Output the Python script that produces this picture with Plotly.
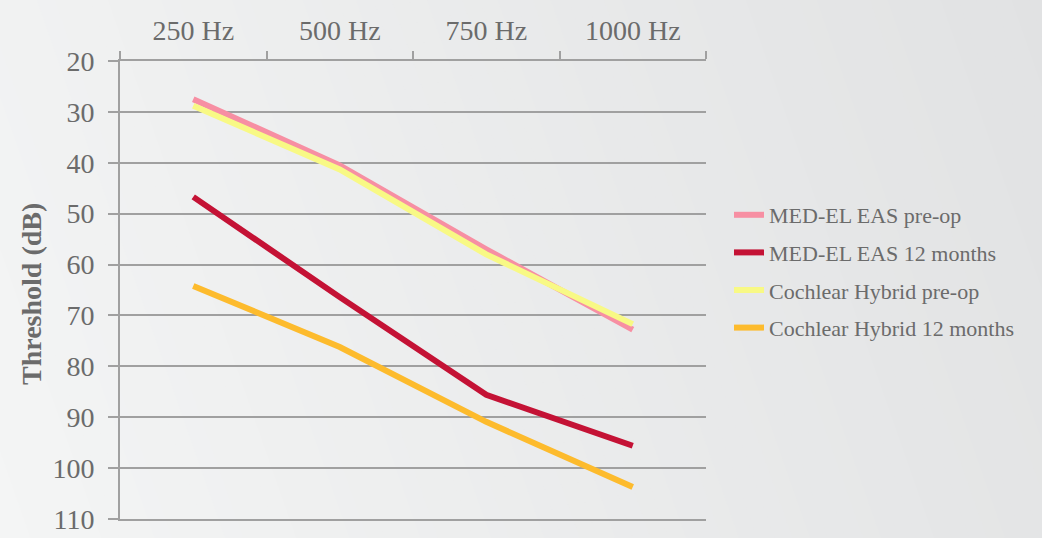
import plotly.graph_objects as go

categories = ["250 Hz", "500 Hz", "750 Hz", "1000 Hz"]
medel_pre = [27.5, 40.5, 57.0, 72.8]
medel_12m = [46.7, 66.4, 85.6, 95.6]
hybrid_pre = [28.8, 41.3, 58.0, 71.7]
hybrid_12m = [64.2, 76.2, 90.9, 103.7]

series = [
    ("MED-EL EAS pre-op", medel_pre, "#f78fa3"),
    ("MED-EL EAS 12 months", medel_12m, "#c41235"),
    ("Cochlear Hybrid pre-op", hybrid_pre, "#f8f985"),
    ("Cochlear Hybrid 12 months", hybrid_12m, "#fdbb2d"),
]

W, H = 1042, 538
L, R, T, B = 120, 706, 61, 519
pw, ph = R - L, B - T

fig = go.Figure()
for i, (name, vals, col) in enumerate(series):
    fig.add_trace(go.Scatter(
        x=categories, y=vals, name=name, mode="lines",
        legendgroup="g%d" % i,
        line=dict(color=col, width=6, shape="linear"),
    ))

# background gradient (light lower-left to darker upper-right)
def px2paper(px, py):
    return (px - L) / pw, (B - py) / ph

c0 = (244, 245, 245)
c1 = (225, 226, 227)
N = 70
k = 0.35
span = W + k * H
shapes = []
for i in range(N):
    a0 = -5 + (span + 10) * i / N
    a1 = -5 + (span + 10) * (i + 1) / N + 1
    t = (i + 0.5) / N
    col = tuple(int(round(c0[j] + (c1[j] - c0[j]) * t)) for j in range(3))
    pts = []
    for a, py in [(a0, H + 5), (a1, H + 5), (a1, -5), (a0, -5)]:
        pxx = a - k * (H - py)
        pts.append(px2paper(pxx, py))
    path = "M " + " L ".join(f"{x:.5f},{y:.5f}" for x, y in pts) + " Z"
    shapes.append(dict(type="path", path=path, xref="paper", yref="paper",
                       fillcolor="rgb(%d,%d,%d)" % col, line=dict(width=0),
                       layer="below"))

fig.update_layout(
    width=W, height=H,
    margin=dict(l=L, r=W - R, t=T, b=H - B, pad=0, autoexpand=False),
    paper_bgcolor="#f0f1f1",
    plot_bgcolor="rgba(0,0,0,0)",
    shapes=shapes,
    font=dict(family="Liberation Serif", color="#6b6b6b"),
    showlegend=True,
    legend=dict(
        x=(729 - L) / pw, xanchor="left",
        y=(B - 194) / ph, yanchor="top",
        bgcolor="rgba(0,0,0,0)",
        font=dict(size=22, color="#6b6b6b", family="Liberation Serif"),
        itemwidth=30,
        tracegroupgap=6,
    ),
    xaxis=dict(
        side="top", type="category", tickson="boundaries",
        ticks="outside", ticklen=8, tickwidth=2, tickcolor="#a0a0a0",
        showline=True, linecolor="#a0a0a0", linewidth=2, mirror=True,
        showgrid=False, zeroline=False, automargin=False,
        tickfont=dict(size=28, color="#6b6b6b", family="Liberation Serif"),
        range=[-0.5, 3.5],
        ticklabelstandoff=8,
    ),
    yaxis=dict(
        range=[110, 20], tickmode="array",
        tickvals=[20, 30, 40, 50, 60, 70, 80, 90, 100, 110],
        ticks="outside", ticklen=10, tickwidth=2, tickcolor="#a0a0a0",
        showline=True, linecolor="#a0a0a0", linewidth=2,
        showgrid=True, gridcolor="#a0a0a0", gridwidth=2,
        zeroline=False, automargin=False,
        tickfont=dict(size=28, color="#6b6b6b", family="Liberation Serif"),
        ticklabelstandoff=8,
    ),
    annotations=[dict(
        text="<b>Threshold (dB)</b>", textangle=-90,
        x=(31 - L) / pw, y=(B - 294) / ph, xref="paper", yref="paper",
        xanchor="center", yanchor="middle", showarrow=False,
        font=dict(size=28, color="#6b6b6b", family="Liberation Serif"),
    )],
)

fig.write_html("out.html")
